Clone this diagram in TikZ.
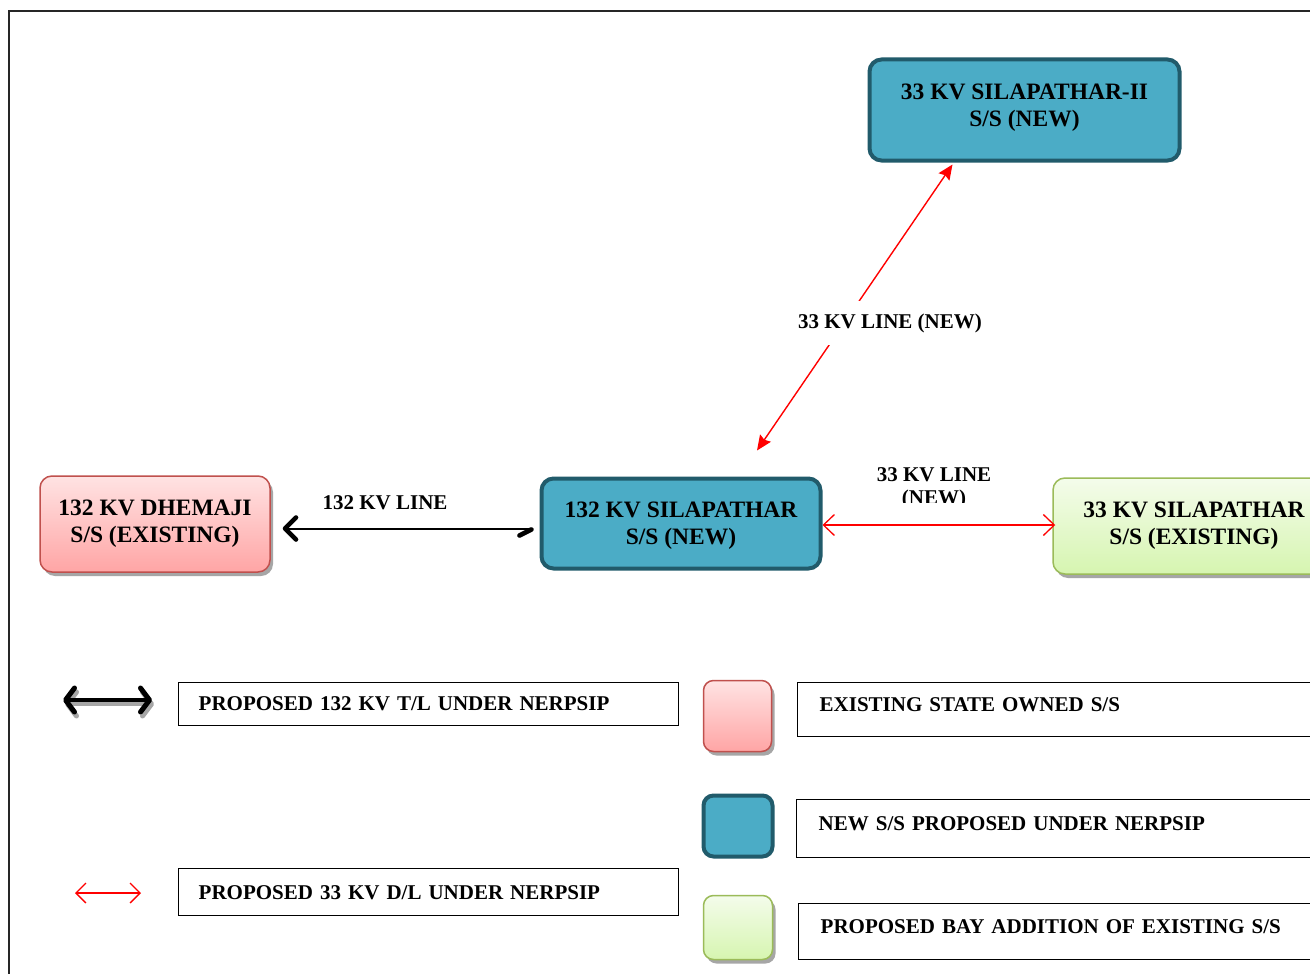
\documentclass[tikz,border=0pt]{standalone}
\usepackage{fontspec}
\setmainfont{Liberation Serif}
\usetikzlibrary{arrows.meta,shadows}
\definecolor{tealfill}{HTML}{4BACC6}
\definecolor{tealdraw}{HTML}{215B6B}
\definecolor{pinkdraw}{HTML}{C0504D}
\definecolor{pinktop}{HTML}{FFE3E3}
\definecolor{pinkbot}{HTML}{FFA5A5}
\definecolor{greendraw}{HTML}{9BBB59}
\definecolor{greentop}{HTML}{F4FCEB}
\definecolor{greenbot}{HTML}{D6F5B0}
\definecolor{shadowgray}{HTML}{A6A6A6}
\definecolor{linered}{HTML}{FF0000}
\tikzset{
  ss/.style={rounded corners=12pt, align=center, inner sep=0pt,
    font=\fontsize{23.5}{27}\selectfont\bfseries},
  newss/.style={ss, fill=tealfill, draw=tealdraw, line width=4pt},
  oldss/.style={ss, draw=pinkdraw, line width=1.5pt, top color=pinktop, bottom color=pinkbot,
    drop shadow={shadow xshift=3pt, shadow yshift=-4pt, fill=shadowgray, opacity=1}},
  bayss/.style={ss, draw=greendraw, line width=1.5pt, top color=greentop, bottom color=greenbot,
    drop shadow={shadow xshift=3pt, shadow yshift=-4pt, fill=shadowgray, opacity=1}},
  lbl/.style={font=\fontsize{21}{23}\selectfont\bfseries, inner sep=0pt, align=center},
  legbox/.style={draw, line width=1.4pt, font=\fontsize{21}{23}\selectfont\bfseries,
    anchor=north west, inner ysep=0pt, align=left},
  raised/.style={text height=14pt, text depth=10pt},
  red33/.style={draw=linered, line width=1.3pt,
    {Straight Barb[length=11pt,width=21pt]}-{Straight Barb[length=11pt,width=21pt]}},
  reddiag/.style={draw=linered, line width=1.4pt,
    {Stealth[length=15pt,width=13pt,inset=2pt]}-{Stealth[length=15pt,width=13pt,inset=2pt]}},
  blk/.style={line width=2pt, -{Straight Barb[length=11pt,width=22pt,line width=4.5pt,round]}},
  blkleg/.style={line width=4pt, {Straight Barb[length=9pt,width=24pt,line width=5pt,round]}-{Straight Barb[length=9pt,width=24pt,line width=5pt,round]}},
}
\begin{document}
\begin{tikzpicture}[x=1pt,y=-1pt]
\useasboundingbox (0,0) rectangle (1310,974);
\clip (0,0) rectangle (1310,974);
\fill[white] (0,0) rectangle (1310,974);
% frame
\draw[line width=2pt, black!85] (9,11) rectangle (1340,1000);

% substations
\node[oldss, minimum width=230pt, minimum height=96pt] (dhem) at (155,524) {132 KV DHEMAJI\\S/S (EXISTING)};
\node[newss, minimum width=279pt, minimum height=90pt] (s132) at (681,523.5) {\raisebox{-2.5pt}[\height][\depth]{\begin{tabular}{@{}c@{}}132 KV SILAPATHAR\\S/S (NEW)\end{tabular}}};
\node[newss, minimum width=310pt, minimum height=101pt] (s2) at (1024.5,110) {\raisebox{2.5pt}[\height][\depth]{\begin{tabular}{@{}c@{}}33 KV SILAPATHAR-II\\S/S (NEW)\end{tabular}}};
\node[bayss, minimum width=282pt, minimum height=96pt] (s33) at (1194,526) {33 KV SILAPATHAR\\S/S (EXISTING)};

% 132 kV line (with shadow)
\begin{scope}[shift={(2,3)}, draw=shadowgray, color=shadowgray]
  \draw[blk] ([xshift=-10pt,yshift=-5pt]s132.west) -- ([xshift=12pt,yshift=-5pt]s132.west -| dhem.east);
  \draw[line width=4.5pt, line cap=round] ([xshift=-9pt,yshift=-6pt]s132.west) -- ([xshift=-20pt,yshift=-12pt]s132.west);
\end{scope}
\draw[blk] ([xshift=-10pt,yshift=-5pt]s132.west) -- ([xshift=12pt,yshift=-5pt]s132.west -| dhem.east);
\draw[line width=4.5pt, line cap=round] ([xshift=-8pt,yshift=-6pt]s132.west) -- ([xshift=-20pt,yshift=-12pt]s132.west);
\node[lbl] (l132) at (385,503) {132 KV LINE};

% 33 kV horizontal line
\draw[red33] ([yshift=-1.5pt]s132.east) -- ([xshift=3pt,yshift=-1.5pt]s132.east -| s33.west);
\begin{scope}
  \clip (850,455) rectangle (1020,502);
  \node[lbl] (l33h) at (934,488.5) {33 KV LINE\\(NEW)};
\end{scope}

% 33 kV diagonal line
\coordinate (dA) at ([xshift=76pt,yshift=26pt]s132.north);
\coordinate (dB) at ([xshift=-72pt,yshift=-2pt]s2.south);
\draw[reddiag] (dA) -- (dB);
\node[lbl, fill=white, inner xsep=2pt, inner ysep=12pt] (l33d) at (890,323) {33 KV LINE (NEW)};

% legend
\coordinate (k1a) at (63,700);
\coordinate (k1b) at (152,700);
\draw[blkleg, shadowgray, transform canvas={shift={(2pt,-4pt)}}] (k1a) -- (k1b);
\draw[blkleg] (k1a) -- (k1b);
\node[legbox, text width=460pt, inner xsep=20pt, minimum height=43pt] (b1) at (178,682) {PROPOSED 132 KV T/L UNDER NERPSIP};

\coordinate (k2a) at (75,893);
\coordinate (k2b) at (141,893);
\draw[draw=linered, line width=1.3pt, {Straight Barb[length=10pt,width=20pt]}-{Straight Barb[length=10pt,width=20pt]}] (k2a) -- (k2b);
\node[legbox, text width=460pt, inner xsep=20pt, minimum height=47pt] (b2) at (178,868) {PROPOSED 33 KV D/L UNDER NERPSIP};

\node[oldss, rounded corners=10pt, minimum width=68pt, minimum height=71pt] (k3) at (737.5,716) {};
\node[legbox, raised, text width=500pt, inner xsep=22pt, minimum height=54pt] (b3) at (797,682) {EXISTING STATE OWNED S/S};

\node[newss, rounded corners=10pt, minimum width=69pt, minimum height=61pt] (k4) at (738,826) {};
\node[legbox, raised, text width=500pt, inner xsep=22pt, minimum height=58pt] (b4) at (796,799) {NEW S/S PROPOSED UNDER NERPSIP};

\node[bayss, rounded corners=10pt, minimum width=69pt, minimum height=64pt] (k5) at (738,927.5) {};
\node[legbox, raised, text width=500pt, inner xsep=22pt, minimum height=56pt] (b5) at (798,903) {PROPOSED BAY ADDITION OF EXISTING S/S};
\end{tikzpicture}
\end{document}
